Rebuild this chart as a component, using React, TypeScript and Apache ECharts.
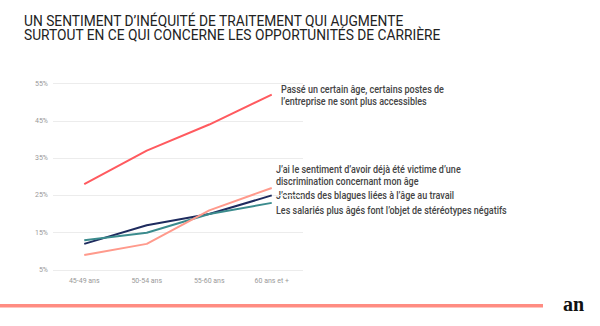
import React, { useEffect, useRef } from "react";
import * as echarts from "echarts";

const categories = ["45-49 ans", "50-54 ans", "55-60 ans", "60 ans et +"];
const postes = [28, 37, 44, 52];
const discrimination = [9, 12, 21, 27];
const blagues = [12, 17, 20, 25];
const stereotypes = [13, 15, 20, 23];

const titleLines = [
  "UN SENTIMENT D\u2019IN\u00c9QUIT\u00c9 DE TRAITEMENT QUI AUGMENTE",
  "SURTOUT EN CE QUI CONCERNE LES OPPORTUNIT\u00c9S DE CARRI\u00c8RE",
];
const annotations = [
  "Pass\u00e9 un certain \u00e2ge, certains postes de",
  "l\u2019entreprise ne sont plus accessibles",
  "J\u2019ai le sentiment d\u2019avoir d\u00e9j\u00e0 \u00e9t\u00e9 victime d\u2019une",
  "discrimination concernant mon \u00e2ge",
  "J\u2019entends des blagues li\u00e9es \u00e0 l\u2019\u00e2ge au travail",
  "Les salari\u00e9s plus \u00e2g\u00e9s font l\u2019objet de st\u00e9r\u00e9otypes n\u00e9gatifs",
];

export default function App() {
  const ref = useRef<HTMLDivElement>(null);
  useEffect(() => {
    const chart = echarts.init(ref.current!, null, { renderer: "svg" });
    const font = "Roboto, 'Liberation Sans', sans-serif";
    const ann = (text: string, x: number, y: number, sx: number) => ({
      type: "text",
      x,
      y,
      scaleX: sx,
      style: {
        text,
        x: 0,
        y: 0,
        fontSize: 11,
        fontFamily: font,
        fontWeight: 500,
        fill: "#444",
        textVerticalAlign: "middle",
      },
    });
    const mk = (name: string, data: number[], color: string) => ({
      name,
      type: "line",
      data,
      symbol: "none",
      lineStyle: { color, width: 2 },
      itemStyle: { color },
    });
    chart.setOption({
      animation: false,
      backgroundColor: "#fff",
      grid: { left: 53, right: 297, top: 83.5, bottom: 56 },
      xAxis: {
        type: "category",
        data: categories,
        boundaryGap: true,
        axisLine: { show: false },
        axisTick: { show: false },
        axisLabel: { color: "#999", fontSize: 7, fontFamily: font, margin: 7 },
      },
      yAxis: {
        type: "value",
        min: 5,
        max: 55,
        interval: 10,
        axisLine: { show: false },
        axisTick: { show: false },
        axisLabel: { color: "#999", fontSize: 7, fontFamily: font, margin: 5, formatter: "{value}%" },
        splitLine: { lineStyle: { color: "#ececec", width: 1 } },
      },
      series: [
        mk(annotations[0], postes, "#FF5A5F"),
        mk(annotations[4], blagues, "#1E2B5E"),
        mk(annotations[5], stereotypes, "#3B8B8D"),
        mk(annotations[2], discrimination, "#FF9A8C"),
      ],
      graphic: [
        {
          type: "text",
          x: 24,
          y: 20.7,
          scaleX: 0.95,
          style: { text: titleLines[0], x: 0, y: 0, fontSize: 14.5, fontFamily: font, fill: "#222", textVerticalAlign: "middle" },
        },
        {
          type: "text",
          x: 24,
          y: 35,
          scaleX: 0.95,
          style: { text: titleLines[1], x: 0, y: 0, fontSize: 14.5, fontFamily: font, fill: "#222", textVerticalAlign: "middle" },
        },
        ann(annotations[0], 281, 89, 0.82),
        ann(annotations[1], 281, 101, 0.82),
        ann(annotations[2], 276, 169.3, 0.82),
        ann(annotations[3], 276, 180.7, 0.82),
        ann(annotations[4], 276, 195.3, 0.82),
        ann(annotations[5], 276, 210, 0.82),
        {
          type: "rect",
          shape: { x: 0, y: 304, width: 543, height: 3.5 },
          style: { fill: "#FF8C82" },
        },
        {
          type: "text",
          x: 563,
          y: 304,
          style: {
            text: "an",
            x: 0,
            y: 0,
            fontSize: 20,
            fontFamily: "'Liberation Serif', 'DejaVu Serif', serif",
            fontWeight: "bold",
            fill: "#111",
            textVerticalAlign: "middle",
          },
        },
      ],
    });
    return () => chart.dispose();
  }, []);
  return <div ref={ref} style={{ width: 600, height: 326, position: "absolute", left: 0, top: 0 }} />;
}
